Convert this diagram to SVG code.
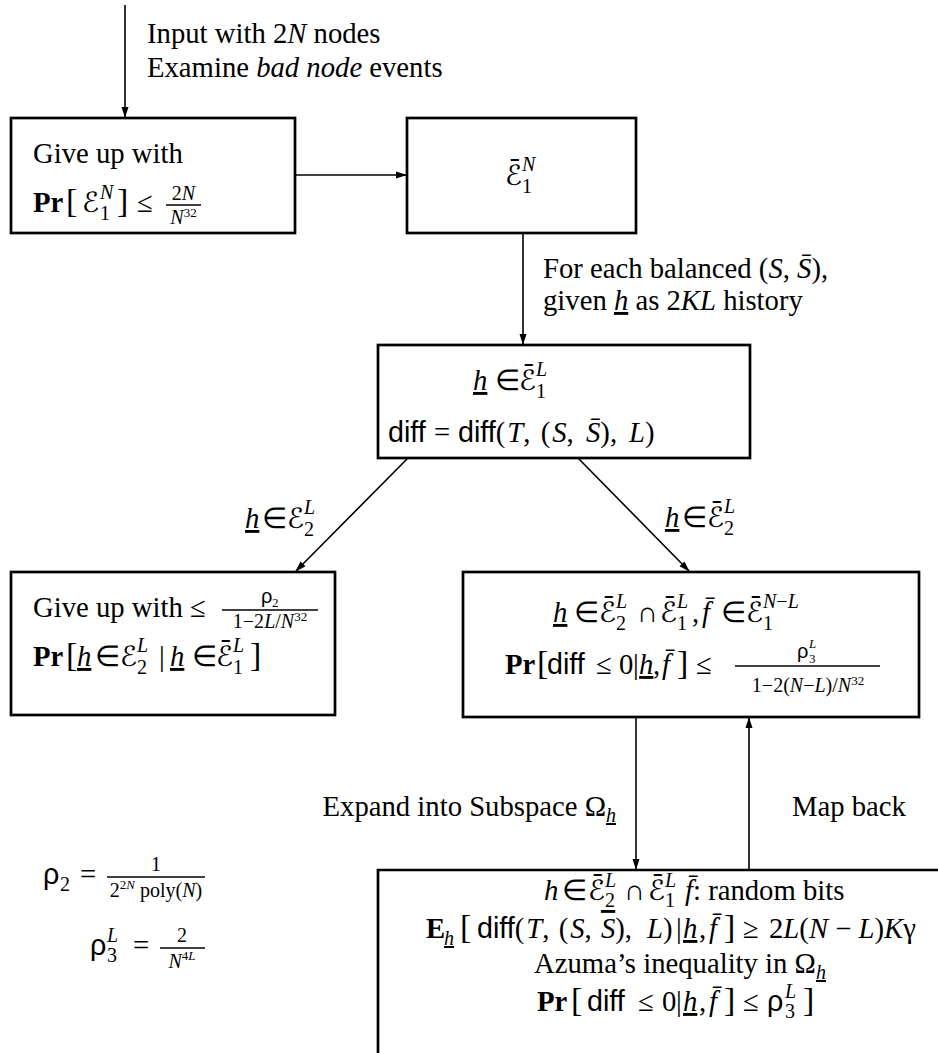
<svg xmlns="http://www.w3.org/2000/svg" width="938" height="1053" viewBox="0 0 938 1053">
<style>
.box{fill:none;stroke:#000;stroke-width:2.7}
.edge{fill:none;stroke:#000;stroke-width:1.6;marker-end:url(#ah)}
.bar{stroke:#000;stroke-width:1.3}
text{fill:#000}
.m{font-family:"Liberation Serif","Times New Roman",serif;font-size:28.7px}
.i{font-style:italic}
.b{font-weight:bold}
.sf{font-family:"Liberation Sans",Arial,sans-serif}
.c{font-family:"DejaVu Sans",sans-serif;font-size:28px}
.g{font-family:"Liberation Sans",Arial,sans-serif}
.sc{font-size:20px}
.ss{font-size:13px}
.u{text-decoration:underline}
.br{font-size:34px}
</style>
<defs>
<marker id="ah" markerWidth="11" markerHeight="8" refX="10" refY="4" orient="auto" markerUnits="userSpaceOnUse"><path d="M0,0.5 L11,4 L0,7.5 Z" fill="#000"/></marker>
</defs>
<g id="connectors">
<line class="edge" x1="125" y1="5" x2="125" y2="117"/>
<line class="edge" x1="295" y1="175" x2="406" y2="175"/>
<line class="edge" x1="523" y1="233" x2="523" y2="344"/>
<line class="edge" x1="408" y1="458" x2="296" y2="571"/>
<line class="edge" x1="578" y1="458" x2="689" y2="571"/>
<line class="edge" x1="636" y1="717" x2="636" y2="869"/>
<line class="edge" x1="749" y1="870" x2="749" y2="718"/>
</g>
<g id="label-input">
<text class="m" x="147" y="43">Input with 2<tspan class="i">N</tspan> nodes</text>
<text class="m" x="147" y="77">Examine <tspan class="i">bad node</tspan> events</text>
</g>
<g id="node-giveup1">
<rect class="box" x="11" y="118" width="284" height="115"/>
<text class="m" x="33" y="163">Give up with</text>
<text class="m" y="212"><tspan x="33" class="b">Pr</tspan><tspan x="66" class="br">[</tspan><tspan x="82" class="c">ℰ</tspan><tspan x="100" y="220" class="sc">1</tspan><tspan x="100" y="199" class="sc i">N</tspan><tspan x="117" y="212" class="br">]</tspan><tspan x="137">≤</tspan></text>
<line class="bar" x1="166" y1="205" x2="201" y2="205"/>
<text class="m sc" x="183.5" y="200" text-anchor="middle">2<tspan class="i">N</tspan></text>
<text class="m sc" x="183.5" y="224" text-anchor="middle"><tspan class="i">N</tspan><tspan class="ss" dy="-7">32</tspan></text>
</g>
<g id="node-e1n">
<rect class="box" x="407" y="118" width="229" height="115"/>
<text class="m" y="185"><tspan x="505" class="c">ℰ̄</tspan><tspan x="522" y="193" class="sc">1</tspan><tspan x="522" y="171" class="sc i">N</tspan></text>
</g>
<g id="label-balanced">
<text class="m" x="543" y="278">For each balanced (<tspan class="i">S</tspan>, <tspan class="i">S̄</tspan>),</text>
<text class="m" x="543" y="310">given <tspan class="i u">h</tspan> as 2<tspan class="i">KL</tspan> history</text>
</g>
<g id="node-diff">
<rect class="box" x="378" y="345" width="372" height="113"/>
<text class="m" y="390"><tspan x="473" class="i u">h</tspan><tspan x="495">∈</tspan><tspan x="519" class="c">ℰ̄</tspan><tspan x="536" y="398" class="sc">1</tspan><tspan x="536" y="376" class="sc i">L</tspan></text>
<text class="m" y="442"><tspan x="388" class="sf">diff</tspan><tspan x="434">=</tspan><tspan x="458" class="sf">diff</tspan><tspan>(</tspan><tspan class="i" dx="2">T</tspan><tspan>, </tspan><tspan dx="3">(</tspan><tspan class="i" dx="2">S</tspan><tspan>, </tspan><tspan x="586" class="i">S̄</tspan><tspan>), </tspan><tspan x="629" class="i">L</tspan><tspan>)</tspan></text>
</g>
<g id="label-e2">
<text class="m" y="528"><tspan x="245" class="i u">h</tspan><tspan x="262">∈</tspan><tspan x="287" class="c">ℰ</tspan><tspan x="304" y="536" class="sc">2</tspan><tspan x="304" y="514" class="sc i">L</tspan></text>
</g>
<g id="label-e2bar">
<text class="m" y="527"><tspan x="665" class="i u">h</tspan><tspan x="682">∈</tspan><tspan x="707" class="c">ℰ̄</tspan><tspan x="724" y="535" class="sc">2</tspan><tspan x="724" y="513" class="sc i">L</tspan></text>
</g>
<g id="node-giveup2">
<rect class="box" x="11" y="572" width="324" height="143"/>
<text class="m" x="33" y="617">Give up with ≤</text>
<line class="bar" x1="222" y1="610" x2="318" y2="610"/>
<text class="m sc" y="603"><tspan x="261" class="g">ρ</tspan><tspan x="272" y="607" class="ss">2</tspan></text>
<text class="m sc" x="270" y="628" text-anchor="middle">1−2<tspan class="i">L</tspan>/<tspan class="i">N</tspan><tspan class="ss" dy="-7">32</tspan></text>
<text class="m" y="666"><tspan x="33" class="b">Pr</tspan><tspan x="66" class="br">[</tspan><tspan x="77" class="i u">h</tspan><tspan x="95">∈</tspan><tspan x="120" class="c">ℰ</tspan><tspan x="137" y="674" class="sc">2</tspan><tspan x="137" y="652" class="sc i">L</tspan><tspan x="159" y="666">|</tspan><tspan x="170" class="i u">h</tspan><tspan x="192">∈</tspan><tspan x="216" class="c">ℰ̄</tspan><tspan x="233" y="674" class="sc">1</tspan><tspan x="233" y="652" class="sc i">L</tspan><tspan x="250" y="666" class="br">]</tspan></text>
</g>
<g id="node-bound">
<rect class="box" x="463" y="572" width="456" height="145"/>
<text class="m" y="622"><tspan x="553" class="i u">h</tspan><tspan x="574">∈</tspan><tspan x="599" class="c">ℰ̄</tspan><tspan x="616" y="630" class="sc">2</tspan><tspan x="616" y="608" class="sc i">L</tspan><tspan x="637" y="622">∩</tspan><tspan x="660" class="c">ℰ̄</tspan><tspan x="677" y="630" class="sc">1</tspan><tspan x="677" y="608" class="sc i">L</tspan><tspan x="692" y="622">,</tspan><tspan x="702" class="i">f̄</tspan><tspan x="721">∈</tspan><tspan x="746" class="c">ℰ̄</tspan><tspan x="763" y="630" class="sc">1</tspan><tspan x="763" y="608" class="sc"><tspan class="i">N</tspan>−<tspan class="i">L</tspan></tspan></text>
<text class="m" y="674"><tspan x="505" class="b">Pr</tspan><tspan x="537" class="br">[</tspan><tspan x="547" class="sf">diff</tspan><tspan x="596">≤</tspan><tspan x="619">0</tspan><tspan x="633">|</tspan><tspan x="639" class="i u">h</tspan><tspan x="653">,</tspan><tspan x="662" class="i">f̄</tspan><tspan x="677" class="br">]</tspan><tspan x="696">≤</tspan></text>
<line class="bar" x1="735" y1="666" x2="880" y2="666"/>
<text class="m sc" y="658"><tspan x="797" class="g">ρ</tspan><tspan x="809" y="663" class="ss">3</tspan><tspan x="809" y="648" class="ss i">L</tspan></text>
<text class="m sc" x="808" y="692" text-anchor="middle">1−2(<tspan class="i">N</tspan>−<tspan class="i">L</tspan>)/<tspan class="i">N</tspan><tspan class="ss" dy="-7">32</tspan></text>
</g>
<g id="label-expand">
<text class="m" x="616" y="816" text-anchor="end">Expand into Subspace Ω<tspan class="sc i u" dy="6">h</tspan></text>
</g>
<g id="label-mapback">
<text class="m" x="792" y="816">Map back</text>
</g>
<g id="node-azuma">
<path class="box" d="M378,1060 V870 H945"/>
<text class="m" y="900"><tspan x="544" class="i">h</tspan><tspan x="562">∈</tspan><tspan x="588" class="c">ℰ̄</tspan><tspan x="605" y="907" class="sc">2</tspan><tspan x="605" y="887" class="sc i">L</tspan><tspan x="624" y="900">∩</tspan><tspan x="648" class="c">ℰ̄</tspan><tspan x="665" y="907" class="sc">1</tspan><tspan x="665" y="887" class="sc i">L</tspan><tspan x="685" y="900" class="i">f̄</tspan><tspan>: random bits</tspan></text>
<text class="m" y="938"><tspan x="426" class="b">E</tspan><tspan x="444" y="945" class="sc i u">h</tspan><tspan x="460" y="938" class="br">[</tspan><tspan x="477" class="sf">diff</tspan><tspan>(</tspan><tspan class="i" dx="2">T</tspan><tspan>, </tspan><tspan dx="2">(</tspan><tspan class="i" dx="2">S</tspan><tspan>, </tspan><tspan dx="2" class="i" style="text-decoration:overline">S</tspan><tspan>), </tspan><tspan x="647" class="i">L</tspan><tspan>)</tspan><tspan x="676">|</tspan><tspan x="683" class="i u">h</tspan><tspan x="699">,</tspan><tspan x="709" class="i">f̄</tspan><tspan x="724" class="br">]</tspan><tspan x="743">≥</tspan><tspan x="769">2<tspan class="i">L</tspan>(<tspan class="i">N</tspan> − <tspan class="i">L</tspan>)<tspan class="i">K</tspan>γ</tspan></text>
<text class="m" x="680" y="973" text-anchor="middle">Azuma’s inequality in Ω<tspan class="sc i u" dy="6">h</tspan></text>
<text class="m" y="1011"><tspan x="537" class="b">Pr</tspan><tspan x="571" class="br">[</tspan><tspan x="587" class="sf">diff</tspan><tspan x="638">≤</tspan><tspan x="662">0</tspan><tspan x="676">|</tspan><tspan x="683" class="i u">h</tspan><tspan x="699">,</tspan><tspan x="709" class="i">f̄</tspan><tspan x="724" class="br">]</tspan><tspan x="743">≤</tspan><tspan x="767" class="g">ρ</tspan><tspan x="785" y="1018" class="sc">3</tspan><tspan x="785" y="998" class="sc i">L</tspan><tspan x="803" y="1011" class="br">]</tspan></text>
</g>
<g id="formula-rho2">
<text class="m" y="884"><tspan x="43" class="g">ρ</tspan><tspan x="60" y="891" class="sc">2</tspan><tspan x="80" y="884">=</tspan></text>
<line class="bar" x1="107" y1="877" x2="205" y2="877"/>
<text class="m sc" x="156" y="871" text-anchor="middle">1</text>
<text class="m sc" x="156" y="897" text-anchor="middle">2<tspan class="ss" dy="-8">2<tspan class="i">N</tspan></tspan><tspan dy="8"> poly(</tspan><tspan class="i">N</tspan>)</text>
</g>
<g id="formula-rho3">
<text class="m" y="955"><tspan x="90" class="g">ρ</tspan><tspan x="107" y="962" class="sc">3</tspan><tspan x="107" y="942" class="sc i">L</tspan><tspan x="133" y="955">=</tspan></text>
<line class="bar" x1="160" y1="948" x2="205" y2="948"/>
<text class="m sc" x="182" y="942" text-anchor="middle">2</text>
<text class="m sc" x="182" y="968" text-anchor="middle"><tspan class="i">N</tspan><tspan class="ss" dy="-8">4<tspan class="i">L</tspan></tspan></text>
</g>
</svg>
